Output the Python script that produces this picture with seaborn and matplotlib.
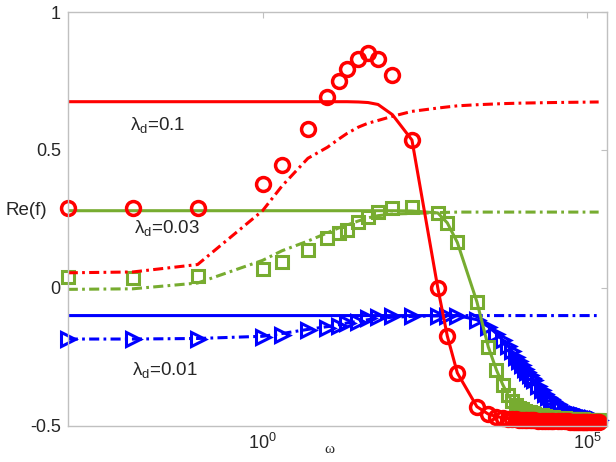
import matplotlib
matplotlib.use('Agg')
import matplotlib.pyplot as plt
import matplotlib.ticker as mticker
import seaborn as sns

# frequencies of the sampled points
omega_low = [1e-3, 1e-2, 1e-1, 1, 2, 5, 10, 15, 20, 30, 42, 60, 100, 200, 500, 700]
omega_high = [1000, 2000, 3000, 4000, 5000, 6000, 7000, 8000, 9000,
              10000, 11000, 12000, 13000, 14000, 15000, 17500, 20000, 22500,
              25000, 27500, 30000, 35000, 40000, 45000, 50000, 55000, 60000,
              65000, 70000, 75000, 80000, 85000, 90000, 95000, 100000,
              110000, 120000, 130000, 140000, 150000]
omega_dash_high = [1000, 2000, 5000, 10000, 30000, 150000]

# lambda_d = 0.1 (red)
red_pts_low = [0.29, 0.29, 0.29, 0.377, 0.446, 0.576, 0.692, 0.75, 0.793, 0.83,
               0.85, 0.83, 0.77, 0.536, 0.0, -0.174]
red_tail = [-0.308, -0.43, -0.457, -0.466, -0.47, -0.473, -0.475, -0.476, -0.477,
            -0.478, -0.478, -0.479, -0.479, -0.48, -0.48, -0.481, -0.481, -0.481,
            -0.482, -0.482, -0.482, -0.483, -0.483, -0.483, -0.483, -0.484, -0.484,
            -0.484, -0.484, -0.484, -0.484, -0.485, -0.485, -0.485, -0.485,
            -0.485, -0.485, -0.485, -0.485, -0.485]
red_solid_x = [1e-3, 20, 30, 42, 60, 100, 200, 500, 700]
red_solid_low = [0.675, 0.675, 0.674, 0.672, 0.665, 0.628, 0.536, 0.0, -0.174]
red_dash = [0.055, 0.058, 0.085, 0.28, 0.37, 0.47, 0.51, 0.54, 0.56, 0.583, 0.597,
            0.607, 0.622, 0.64, 0.652, 0.656, 0.66, 0.664, 0.668, 0.67, 0.672, 0.674]

# lambda_d = 0.03 (green)
green_pts_low = [0.04, 0.036, 0.043, 0.07, 0.094, 0.138, 0.181, 0.2, 0.21, 0.239,
                 0.257, 0.275, 0.29, 0.293, 0.272, 0.236]
green_tail = [0.165, -0.05, -0.214, -0.297, -0.35, -0.387, -0.41, -0.425, -0.434,
              -0.44, -0.444, -0.448, -0.451, -0.453, -0.455, -0.459, -0.462, -0.464,
              -0.466, -0.467, -0.468, -0.47, -0.471, -0.472, -0.473, -0.473, -0.474,
              -0.474, -0.475, -0.475, -0.476, -0.476, -0.477, -0.477, -0.477,
              -0.478, -0.478, -0.478, -0.479, -0.479]
green_solid_x = [1e-3, 100, 200, 500, 700]
green_solid_low = [0.28, 0.28, 0.279, 0.272, 0.236]
green_dash = [-0.005, -0.003, 0.018, 0.10, 0.135, 0.17, 0.2, 0.218, 0.228, 0.243,
              0.254, 0.262, 0.268, 0.27, 0.273, 0.274, 0.275, 0.275, 0.275, 0.275,
              0.275, 0.275]

# lambda_d = 0.01 (blue)
blue_pts_low = [-0.185, -0.185, -0.185, -0.178, -0.17, -0.152, -0.145, -0.138,
                -0.127, -0.123, -0.11, -0.105, -0.103, -0.102, -0.1, -0.1]
blue_tail = [-0.1, -0.115, -0.14, -0.165, -0.19, -0.21, -0.23, -0.25, -0.265,
             -0.28, -0.293, -0.305, -0.315, -0.325, -0.335, -0.355, -0.37, -0.383,
             -0.395, -0.403, -0.41, -0.422, -0.432, -0.439, -0.445, -0.449, -0.452,
             -0.455, -0.458, -0.46, -0.462, -0.463, -0.465, -0.466, -0.467,
             -0.47, -0.472, -0.474, -0.476, -0.477]
blue_solid_x = [1e-3]
blue_solid_low = [-0.1]
blue_dash = [-0.185, -0.185, -0.183, -0.175, -0.165, -0.15, -0.14, -0.133, -0.127,
             -0.12, -0.115, -0.11, -0.106, -0.103, -0.101, -0.1, -0.1, -0.1, -0.1,
             -0.1, -0.1, -0.1]

labels = [r'$\lambda_d$=0.1', r'$\lambda_d$=0.03', r'$\lambda_d$=0.01']
label_pos = [(0.009, 0.572), (0.0105, 0.199), (0.0098, -0.315)]

RED = '#ff0000'
GREEN = '#77ac30'
BLUE = '#0000ff'
DASHDOT = (0, (3.3, 1.4, 0.9, 1.4))

sns.set_style('white')
plt.rcParams['font.family'] = ['Liberation Sans', 'DejaVu Sans']
plt.rcParams['mathtext.fontset'] = 'custom'
plt.rcParams['mathtext.rm'] = 'Liberation Sans'
plt.rcParams['mathtext.it'] = 'Liberation Sans:italic'
plt.rcParams['mathtext.default'] = 'regular'

fig = plt.figure(figsize=(6.16, 4.62), dpi=100)
ax = fig.add_axes([0.110, 0.078, 0.875, 0.896])

omega_pts = omega_low + omega_high
omega_dash = omega_low + omega_dash_high

series = [
    (blue_solid_x, blue_solid_low, blue_tail, blue_dash, blue_pts_low, BLUE, '>', 9.5, 2.2),
    (green_solid_x, green_solid_low, green_tail, green_dash, green_pts_low, GREEN, 's', 8.5, 2.2),
    (red_solid_x, red_solid_low, red_tail, red_dash, red_pts_low, RED, 'o', 10, 2.5),
]

for sx, slow, tail, dash, plow, col, mk, ms, mew in series:
    sns.lineplot(x=sx + omega_high, y=slow + tail, color=col, linewidth=2.2, ax=ax)
    sns.lineplot(x=omega_dash, y=dash, color=col, linewidth=2.2,
                 linestyle=DASHDOT, ax=ax)
    sns.lineplot(x=omega_pts, y=plow + tail, color=col, marker=mk, linestyle='none',
                 markersize=ms, markerfacecolor='none', markeredgecolor=col,
                 markeredgewidth=mew, clip_on=False, ax=ax)

for txt, (x, y) in zip(labels, label_pos):
    ax.text(x, y, txt, fontsize=13.5, ha='left', va='baseline')

ax.set_xscale('log')
ax.set_xlim(1e-3, 2e5)
ax.set_ylim(-0.5, 1)
ax.set_xticks([1, 1e5])
ax.set_xticklabels([r'$10^0$', r'$10^5$'])
ax.xaxis.set_minor_locator(mticker.NullLocator())
ax.set_yticks([-0.5, 0, 0.5, 1])
ax.set_yticklabels(['-0.5', '0', '0.5', '1'])

ax.tick_params(axis='both', which='both', direction='in', length=4.5, width=0.8,
               color='#c0c0c0', labelsize=13, top=True, right=True, pad=5)

for sp in ax.spines.values():
    sp.set_color('#c0c0c0')
    sp.set_linewidth(1)

ax.set_ylabel('Re(f)', rotation=0, fontsize=13.5, ha='right', va='center')
ax.yaxis.set_label_coords(-0.038, 0.52)
ax.set_xlabel('\u03c9', fontsize=11, family='Liberation Serif', va='center')
ax.xaxis.set_label_coords(0.486, -0.058)

fig.savefig('out.png', dpi=100)
